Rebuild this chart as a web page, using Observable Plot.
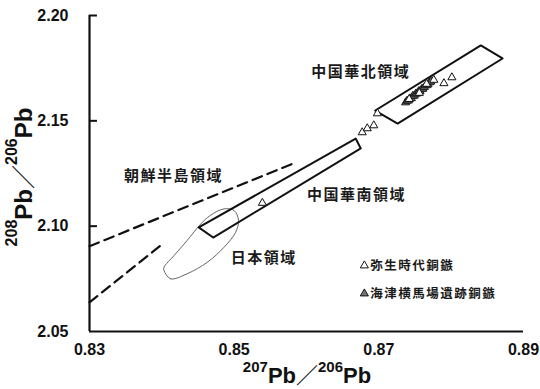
<!DOCTYPE html>
<html><head><meta charset="utf-8">
<script src="https://cdn.jsdelivr.net/npm/d3@7"></script>
<script src="https://cdn.jsdelivr.net/npm/@observablehq/plot@0.6"></script>
<style>
body{margin:0;background:#fff}
#chart{position:relative;width:540px;height:389px;overflow:hidden}
</style>
</head><body><div id="chart"></div>
<script>
// axis ticks
const xTicks = [0.83, 0.85, 0.87, 0.89];
const yTicks = [2.05, 2.10, 2.15, 2.20];

// 弥生時代銅鏃 (open triangles)
const yayoiX = [0.8539, 0.8677, 0.8684, 0.8693, 0.8698, 0.8742, 0.8756, 0.8766, 0.8776, 0.8790, 0.8801];
const yayoiY = [2.1110, 2.1445, 2.1464, 2.1478, 2.1535, 2.1603, 2.1632, 2.1675, 2.1694, 2.1678, 2.1706];

// 海津横馬場遺跡銅鏃 (shaded triangles)
const umabaX = [0.8737, 0.8739, 0.8741, 0.8743, 0.8745, 0.8747, 0.8749, 0.8751, 0.8753, 0.8755, 0.8757, 0.8759, 0.8761, 0.8763, 0.8766, 0.8768, 0.8770, 0.8772];
const umabaY = [2.1587, 2.1595, 2.1596, 2.1606, 2.1607, 2.1618, 2.1619, 2.1628, 2.1630, 2.1640, 2.1641, 2.1650, 2.1652, 2.1660, 2.1668, 2.1672, 2.1682, 2.1686];

// 中国華北領域 box
const northBoxX = [0.8695, 0.8841, 0.8871, 0.8726];
const northBoxY = [2.1549, 2.1858, 2.1796, 2.1487];
// 中国華南領域 box
const southBoxX = [0.8451, 0.8668, 0.8675, 0.8471];
const southBoxY = [2.0994, 2.1416, 2.1369, 2.0946];
// 朝鮮半島領域 bounds (dashed)
const koreaUpperX = [0.8300, 0.8585];
const koreaUpperY = [2.0905, 2.1302];
const koreaLowerX = [0.8300, 0.8402];
const koreaLowerY = [2.0638, 2.0918];
// 日本領域 outline
const japanX = [0.8403, 0.8412, 0.8435, 0.8463, 0.8486, 0.8502, 0.8506, 0.8500, 0.8486, 0.8467, 0.8454, 0.8435, 0.8417, 0.8403];
const japanY = [2.0790, 2.0750, 2.0774, 2.0829, 2.0900, 2.0971, 2.1027, 2.1074, 2.1082, 2.1051, 2.1011, 2.0932, 2.0861, 2.0805];

// region labels
const regionLabels = ["中国華北領域", "中国華南領域", "朝鮮半島領域", "日本領域"];
const regionLabelX = [0.8675, 0.8669, 0.8416, 0.8541];
const regionLabelY = [2.1729, 2.1146, 2.1236, 2.0847];

// legend
const legendLabels = ["弥生時代銅鏃", "海津横馬場遺跡銅鏃"];
const legendX = [0.8680, 0.8680];
const legendY = [2.0813, 2.0680];

const pts = (xs, ys) => xs.map((x, i) => ({x, y: ys[i]}));

const plot = Plot.plot({
  width: 540, height: 389,
  marginLeft: 89, marginRight: 17, marginTop: 15, marginBottom: 58,
  x: {domain: [0.83, 0.89]},
  y: {domain: [2.05, 2.20]},
  style: {fontFamily: "'Liberation Sans', Arial, sans-serif", fontWeight: "bold", background: "#fff", color: "#111"},
  marks: [
    Plot.axisX(xTicks, {tickSize: 0, tickPadding: 12, tickFormat: d3.format(".2f"), fontSize: 16, label: null}),
    Plot.axisY(yTicks, {tickSize: 0, tickPadding: 21, tickFormat: d3.format(".2f"), fontSize: 16, label: null}),
    Plot.ruleY(yTicks.slice(1), {x1: 0.83, x2: 0.8311, stroke: "#111", strokeWidth: 2}),
    Plot.ruleX([0.83], {stroke: "#111", strokeWidth: 2.2}),
    Plot.ruleY([2.05], {stroke: "#111", strokeWidth: 2.2}),
    Plot.line(pts(koreaUpperX, koreaUpperY), {x: "x", y: "y", stroke: "#111", strokeWidth: 2.2, strokeDasharray: "10,6"}),
    Plot.line(pts(koreaLowerX, koreaLowerY), {x: "x", y: "y", stroke: "#111", strokeWidth: 2.2, strokeDasharray: "10,6"}),
    Plot.line(pts(japanX, japanY), {x: "x", y: "y", curve: "catmull-rom-closed", stroke: "#555", strokeWidth: 0.9}),
    Plot.line(pts(southBoxX, southBoxY), {x: "x", y: "y", curve: "linear-closed", stroke: "#111", strokeWidth: 2}),
    Plot.line(pts(northBoxX, northBoxY), {x: "x", y: "y", curve: "linear-closed", stroke: "#111", strokeWidth: 2}),
    Plot.dot(pts(umabaX, umabaY), {x: "x", y: "y", symbol: "triangle", r: 3, fill: "#777", stroke: "#111", strokeWidth: 0.9}),
    Plot.dot(pts(yayoiX, yayoiY), {x: "x", y: "y", symbol: "triangle", r: 3, fill: "#fff", stroke: "#111", strokeWidth: 1}),
    Plot.text(regionLabels.map((t, i) => ({t, x: regionLabelX[i], y: regionLabelY[i]})),
      {x: "x", y: "y", text: "t", fontSize: 15, fontFamily: "'Noto Sans CJK JP', sans-serif", fontWeight: "bold", textAnchor: "middle", fill: "#1a1a1a"}),
    Plot.dot(legendLabels.map((t, i) => ({t, i, x: legendX[i], y: legendY[i]})),
      {x: "x", y: "y", symbol: "triangle", r: 3, fill: d => d.i === 0 ? "#fff" : "#777", stroke: "#111", strokeWidth: 1}),
    Plot.text(legendLabels.map((t, i) => ({t, x: legendX[i], y: legendY[i]})),
      {x: "x", y: "y", text: "t", dx: 6, fontSize: 12.5, fontFamily: "'Noto Sans CJK JP', sans-serif", fontWeight: "bold", textAnchor: "start", fill: "#1a1a1a"})
  ]
});

const svg = d3.select(plot);
svg.selectAll("g[aria-label='text'] text").style("letter-spacing", "1.5px");

function axisTitle(sel, a, b, big, sup, shift) {
  const t = sel.append("text")
    .attr("font-family", "'Liberation Sans', Arial, sans-serif")
    .attr("font-weight", "bold").attr("font-size", big).attr("fill", "#111");
  t.append("tspan").attr("font-size", sup).attr("dy", -shift).text(a);
  t.append("tspan").attr("dy", shift).text("Pb");
  t.append("tspan").attr("font-family", "'Noto Sans CJK JP', sans-serif").attr("font-weight", "normal").text("／");
  t.append("tspan").attr("font-size", sup).attr("dy", -shift).text(b);
  t.append("tspan").attr("dy", shift).text("Pb");
  return t;
}
axisTitle(svg.append("g").attr("transform", "translate(307,383)"), "207", "206", 22, 15, 11).attr("text-anchor", "middle");
axisTitle(svg.append("g").attr("transform", "translate(32,177) rotate(-90)"), "208", "206", 24, 16, 15).attr("text-anchor", "middle");

document.getElementById("chart").appendChild(plot);
</script>
</body></html>
